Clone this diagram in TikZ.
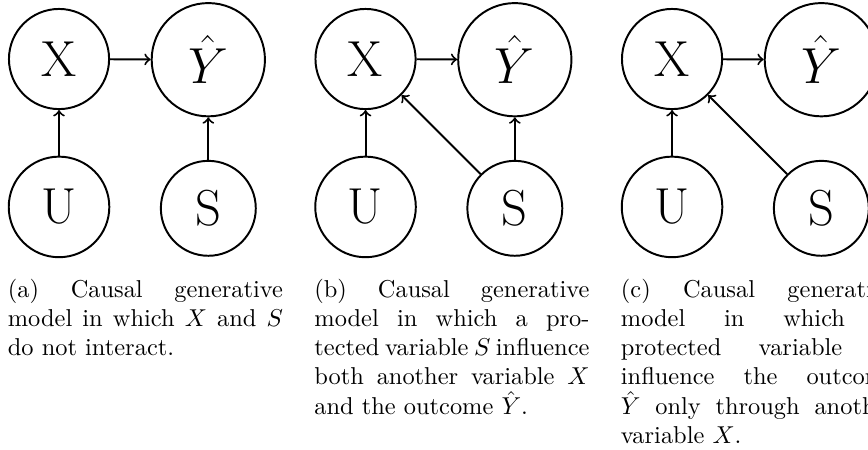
\documentclass[tikz,border=0pt]{standalone}
\usepackage{amsmath}
\begin{document}
\begin{tikzpicture}[thick,
	var/.style={draw, circle, inner sep=7.4pt, font=\huge},
	subcap/.style={anchor=north west, inner sep=0, text width=112.7pt, align=justify, font=\normalsize}
]
	%frame
	\useasboundingbox (0, 0) rectangle (12.5, -6.47);
	\clip (0, 0) rectangle (12.5, -6.47);

	%nodes
	\foreach \i/\x in {a/0, b/4.414, c/8.828} {
		\node [var] (X\i) at (\x+0.85, -0.85) {X};
		\node [var] (Y\i) at (\x+3.0, -0.86) {$\hat{Y}$};
		\node [var] (U\i) at (\x+0.85, -2.98) {U};
		\node [var] (S\i) at (\x+3.0, -3.0) {S};
	}

	%captions
	\node [subcap] (capa) at (0.10, -4.0) {(a) Causal generative model in which $X$ and $S$ do not interact.};
	\node [subcap] (capb) at (4.514, -4.0) {(b) Causal generative model in which a protected variable $S$ influence both another variable $X$ and the outcome $\hat{Y}$.};
	\node [subcap] (capc) at (8.928, -4.0) {(c) Causal generative\linebreak model in which a\linebreak protected variable $S$\linebreak influence the outcome\linebreak $\hat{Y}$ only through another\linebreak variable $X$.};

	%paths
	\foreach \i in {a, b, c} {
		\draw [->] (X\i) -- (Y\i);
		\draw [->] (U\i) -- (X\i);
	}
	\draw [->] (Sa) -- (Ya);
	\draw [->] (Sb) -- (Yb);
	\draw [->] (Sb) -- (Xb);
	\draw [->] (Sc) -- (Xc);

\end{tikzpicture}
\end{document}
